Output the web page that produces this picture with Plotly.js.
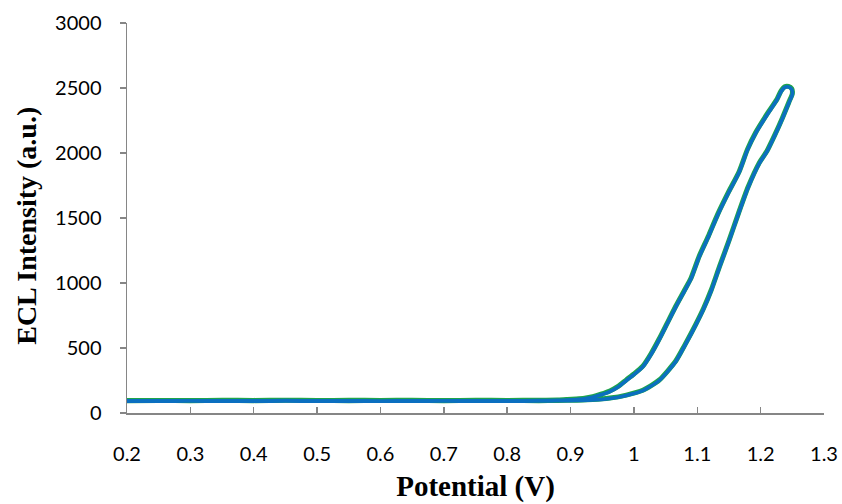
<!DOCTYPE html>
<html>
<head>
<meta charset="utf-8">
<script src="https://cdn.plot.ly/plotly-3.0.1.min.js"></script>
<style>html,body{margin:0;padding:0;background:#fff;}#chart{width:842px;height:504px;}</style>
</head>
<body>
<div id="chart"></div>
<script>
// Potential (V) along the scan path: forward baseline, lower branch up, upper branch down, reverse baseline
const potential = [
  0.20, 0.25, 0.30, 0.35, 0.40, 0.45, 0.50, 0.55, 0.60, 0.65, 0.70, 0.75, 0.80, 0.85, 0.88,
  0.91, 0.935, 0.962, 0.988, 1.014, 1.04, 1.066, 1.08, 1.098, 1.11, 1.122, 1.135, 1.15, 1.165, 1.18, 1.198, 1.21, 1.222, 1.234, 1.245, 1.25, 1.249, 1.244, 1.238,
  1.232, 1.226, 1.211, 1.192, 1.179, 1.166, 1.15, 1.132, 1.118, 1.103, 1.09, 1.08, 1.066, 1.053, 1.04, 1.027, 1.014, 1.0, 0.988, 0.975, 0.962, 0.948, 0.935, 0.922, 0.909, 0.895, 0.88,
  0.85, 0.80, 0.75, 0.70, 0.65, 0.60, 0.55, 0.50, 0.45, 0.40, 0.35, 0.30, 0.25, 0.20
];
// ECL intensity, blue series
const intensityBlue = [
  90, 91, 92, 90, 91, 92, 91, 90, 91, 90, 92, 91, 90, 92, 94,
  97, 100, 112, 135, 172, 250, 395, 515, 680, 800, 940, 1120, 1320, 1530, 1730, 1920, 2010, 2130, 2260, 2390, 2450, 2490, 2508, 2505,
  2470, 2410, 2300, 2150, 2020, 1850, 1700, 1520, 1360, 1200, 1030, 940, 815, 690, 565, 450, 355, 295, 250, 200, 165, 140, 122, 110, 104, 100, 97,
  95, 93, 94, 93, 94, 92, 94, 93, 95, 93, 94, 93, 94, 93
];
// ECL intensity, green series
const intensityGreen = [
  94, 96, 95, 97, 95, 98, 96, 95, 97, 96, 95, 97, 96, 95, 97,
  99, 103, 115, 138, 175, 254, 400, 520, 686, 806, 946, 1126, 1326, 1536, 1736, 1926, 2016, 2136, 2266, 2396, 2456, 2496, 2512, 2510,
  2476, 2416, 2306, 2156, 2026, 1856, 1706, 1526, 1366, 1206, 1036, 946, 821, 696, 571, 456, 360, 300, 255, 205, 170, 145, 126, 114, 108, 104, 100,
  98, 97, 98, 96, 98, 97, 98, 96, 99, 97, 98, 96, 97, 96
];
const xTickVals = [0.2, 0.3, 0.4, 0.5, 0.6, 0.7, 0.8, 0.9, 1.0, 1.1, 1.2, 1.3];
const xTickText = ["0.2", "0.3", "0.4", "0.5", "0.6", "0.7", "0.8", "0.9", "1", "1.1", "1.2", "1.3"];
const yTickVals = [0, 500, 1000, 1500, 2000, 2500, 3000];
const yTickText = ["0", "500", "1000", "1500", "2000", "2500", "3000"];

const traces = [
  {x: potential, y: intensityGreen, type: 'scatter', mode: 'lines',
   line: {color: '#1fa54a', width: 5, shape: 'spline', smoothing: 0.6}, hoverinfo: 'skip'},
  {x: potential, y: intensityBlue, type: 'scatter', mode: 'lines',
   line: {color: '#0b6fc0', width: 3.6, shape: 'spline', smoothing: 0.6}, hoverinfo: 'skip'}
];

const axisColor = '#868686';
const titleFont = {family: '"Liberation Serif", "Times New Roman", serif', size: 29, color: '#000', weight: 'bold'};
const yTitleFont = {family: '"Liberation Serif", "Times New Roman", serif', size: 28, color: '#000', weight: 'bold'};
const layout = {
  width: 842, height: 504,
  margin: {l: 127, r: 18, t: 23, b: 91},
  paper_bgcolor: '#ffffff', plot_bgcolor: '#ffffff',
  showlegend: false,
  xaxis: {
    range: [0.2, 1.3], tickvals: xTickVals, ticktext: xTickText,
    ticks: 'inside', ticklen: 6, tickcolor: axisColor, tickwidth: 1.5,
    showline: true, linecolor: axisColor, linewidth: 1.5,
    showgrid: false, zeroline: false, ticklabelstandoff: 22,
    tickfont: {family: 'Lato, sans-serif', size: 20, color: '#000'},
    title: {text: 'Potential (V)', standoff: 12, font: titleFont}
  },
  yaxis: {
    range: [0, 3000], tickvals: yTickVals, ticktext: yTickText,
    ticks: 'outside', ticklen: 6, tickcolor: axisColor, tickwidth: 1.5,
    showline: true, linecolor: axisColor, linewidth: 1.5,
    showgrid: false, zeroline: false, ticklabelstandoff: 14,
    tickfont: {family: 'Lato, sans-serif', size: 20, color: '#000'}
  },
  annotations: [{
    text: 'ECL Intensity (a.u.)', textangle: -90, showarrow: false,
    xref: 'paper', yref: 'paper', x: -0.1435, y: 0.48,
    xanchor: 'center', yanchor: 'middle', font: yTitleFont
  }]
};
Plotly.newPlot('chart', traces, layout, {displayModeBar: false, staticPlot: true});
</script>
</body>
</html>
